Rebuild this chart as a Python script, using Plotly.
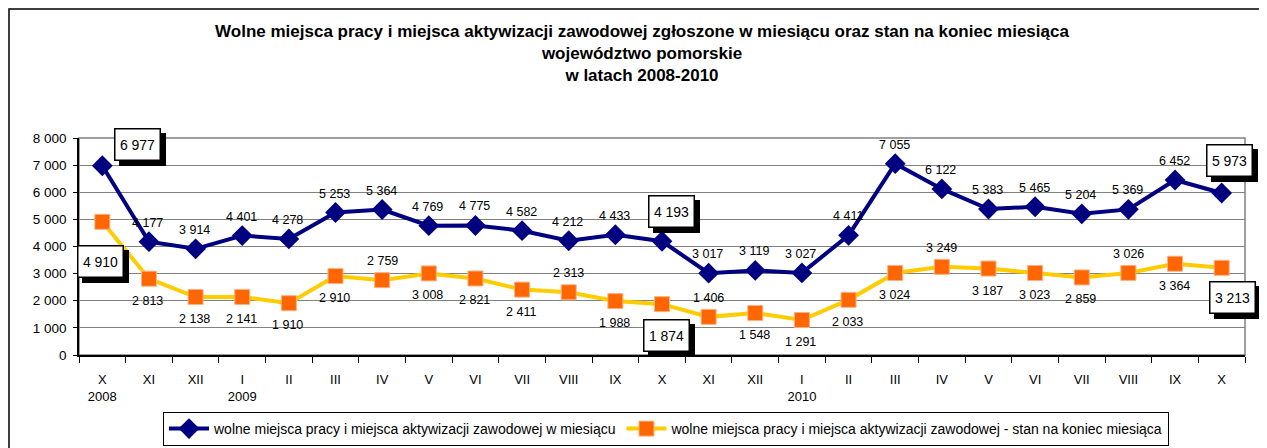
import plotly.graph_objects as go

# ---- data ----
categories = ["X 2008", "XI 2008", "XII 2008",
              "I 2009", "II 2009", "III 2009", "IV 2009", "V 2009", "VI 2009",
              "VII 2009", "VIII 2009", "IX 2009", "X 2009", "XI 2009", "XII 2009",
              "I 2010", "II 2010", "III 2010", "IV 2010", "V 2010", "VI 2010",
              "VII 2010", "VIII 2010", "IX 2010", "X 2010"]
tick_labels = ["X<br>2008", "XI", "XII", "I<br>2009", "II", "III", "IV", "V", "VI",
               "VII", "VIII", "IX", "X", "XI", "XII", "I<br>2010", "II", "III", "IV",
               "V", "VI", "VII", "VIII", "IX", "X"]
zgloszone = [6977, 4177, 3914, 4401, 4278, 5253, 5364, 4769, 4775, 4582, 4212, 4433,
             4193, 3017, 3119, 3027, 4411, 7055, 6122, 5383, 5465, 5204, 5369, 6452, 5973]
stan = [4910, 2813, 2138, 2141, 1910, 2910, 2759, 3008, 2821, 2411, 2313, 1988,
        1874, 1406, 1548, 1291, 2033, 3024, 3249, 3187, 3023, 2859, 3026, 3364, 3213]
y_tickvals = [0, 1000, 2000, 3000, 4000, 5000, 6000, 7000, 8000]
y_ticktext = ["0", "1 000", "2 000", "3 000", "4 000", "5 000", "6 000", "7 000", "8 000"]
name_blue = "wolne miejsca pracy i miejsca aktywizacji zawodowej w miesiącu"
name_orange = "wolne miejsca pracy i miejsca aktywizacji zawodowej - stan na koniec miesiąca"
title_lines = ["Wolne miejsca pracy i miejsca aktywizacji zawodowej zgłoszone w miesiącu oraz stan na koniec miesiąca",
               "województwo pomorskie",
               "w latach 2008-2010"]

# ---- label placement (style) ----
orange_above = {6, 10, 13, 18, 22}
boxed_blue = {0: (35, 21), 12: (9, 30), 24: (8, 32)}
boxed_orange = {0: (-2, -40), 12: (4, -31), 24: (11, -30)}

FONT = "Liberation Sans, Arial, sans-serif"


def fmt(v):
    return f"{v:,}".replace(",", " ")


fig = go.Figure()
fig.add_trace(go.Scatter(x=categories, y=zgloszone, mode="lines+markers", name=name_blue,
                         line=dict(color="#000080", width=4),
                         marker=dict(symbol="diamond", size=16, color="#000080")))
fig.add_trace(go.Scatter(x=categories, y=stan, mode="lines+markers", name=name_orange,
                         line=dict(color="#FFCC00", width=4),
                         marker=dict(symbol="square", size=15, color="#FF6600",
                                     line=dict(color="#FFB080", width=1))))

annotations = []


def add_label(x, y, text, xs, ys):
    annotations.append(dict(x=x, y=y, xref="x", yref="y", text=text, showarrow=False,
                            xshift=xs, yshift=ys,
                            font=dict(family=FONT, size=12.5, color="black")))


def add_box(x, y, text, xs, ys):
    annotations.append(dict(x=x, y=y, xref="x", yref="y", text=text, showarrow=False,
                            xshift=xs + 5, yshift=ys - 5, width=42, height=28,
                            font=dict(family=FONT, size=14, color="black"),
                            bgcolor="black", bordercolor="black", borderwidth=1.5))
    annotations.append(dict(x=x, y=y, xref="x", yref="y", text=text, showarrow=False,
                            xshift=xs, yshift=ys, width=42, height=28,
                            font=dict(family=FONT, size=14, color="black"),
                            bgcolor="white", bordercolor="black", borderwidth=1.5))


for i, (c, v) in enumerate(zip(categories, zgloszone)):
    if i in boxed_blue:
        add_box(c, v, fmt(v), *boxed_blue[i])
    else:
        add_label(c, v, fmt(v), -1, 19)
for i, (c, v) in enumerate(zip(categories, stan)):
    if i in boxed_orange:
        add_box(c, v, fmt(v), *boxed_orange[i])
    elif i in orange_above:
        add_label(c, v, fmt(v), 0, 19)
    else:
        add_label(c, v, fmt(v), -1, -22)

# the page body adds an 8px offset; figure coordinates are page coordinates minus 8
FW, FH = 1259, 440
L, R, T, B = 71, 1237, 130, 347
W, H = R - L, B - T
shapes = [
    # outer chart frame
    dict(type="rect", xref="paper", yref="paper", x0=(1 - L) / W, x1=1.05,
         y0=-0.6, y1=(B - 1) / H, line=dict(color="black", width=1.5), layer="below"),
    # plot area border
    dict(type="rect", xref="paper", yref="paper", x0=0, x1=1, y0=0, y1=1,
         line=dict(color="#808080", width=1.5), layer="below"),
]

fig.update_layout(
    width=FW, height=FH,
    margin=dict(l=L, r=FW - R, t=T, b=FH - B, autoexpand=False),
    paper_bgcolor="white", plot_bgcolor="white",
    font=dict(family=FONT, size=13, color="black"),
    title=dict(text="<br>".join(title_lines), x=634 / FW, xanchor="center",
               y=1 - 29 / FH, yanchor="top", yref="container",
               font=dict(family=FONT, size=17, color="black", weight="bold")),
    xaxis=dict(type="category", categoryorder="array", categoryarray=categories,
               tickmode="array", tickvals=categories, ticktext=tick_labels,
               tickson="boundaries", ticks="outside", ticklen=6, tickcolor="black",
               ticklabelstandoff=12,
               showline=True, linecolor="black", linewidth=1.5, showgrid=False,
               tickfont=dict(size=13), range=[-0.5, 24.5]),
    yaxis=dict(range=[0, 8000], tickmode="array", tickvals=y_tickvals, ticktext=y_ticktext,
               ticks="outside", ticklen=4, tickcolor="black", showline=True,
               ticklabelstandoff=4,
               linecolor="black", linewidth=1.5, showgrid=True, gridcolor="#808080",
               gridwidth=1, zeroline=False, tickfont=dict(size=13.5)),
    legend=dict(orientation="h", x=(658 - L) / W, xanchor="center",
                y=(B - 404) / H, yanchor="top", bordercolor="black", borderwidth=1,
                bgcolor="white", font=dict(size=14), itemwidth=40, tracegroupgap=0),
    showlegend=True,
    annotations=annotations,
    shapes=shapes,
)

fig.write_html("out.html")
